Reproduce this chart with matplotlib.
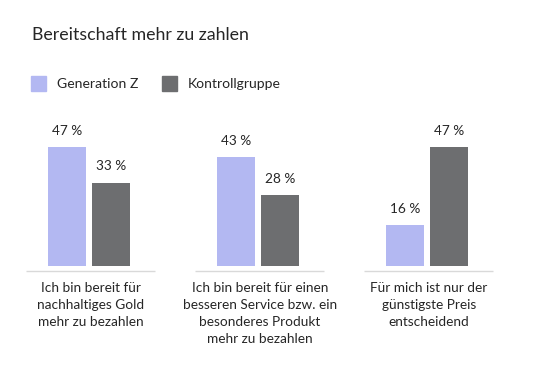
import matplotlib
matplotlib.use("Agg")
import numpy as np
from matplotlib import pyplot as plt

TITLE = "Bereitschaft mehr zu zahlen"
SERIES = ["Generation Z", "Kontrollgruppe"]
CATEGORIES = [
    "Ich bin bereit für\nnachhaltiges Gold\nmehr zu bezahlen",
    "Ich bin bereit für einen\nbesseren Service bzw. ein\nbesonderes Produkt\nmehr zu bezahlen",
    "Für mich ist nur der\ngünstigste Preis\nentscheidend",
]
GEN_Z = [47, 43, 16]
KONTROLL = [33, 28, 47]

COLORS = ["#b3b8f2", "#6d6e70"]
TEXT = "#262626"

plt.rcParams["font.family"] = ["Lato", "DejaVu Sans"]

W, H = 536, 387
fig = plt.figure(figsize=(W / 100, H / 100), dpi=100)
ax = fig.add_axes((0, 0, 1, 1))

px_x = 169.0   # pixels per category
x0 = 89.0      # pixel centre of first group
px_y = 2.52    # pixels per percent
base = 121.3   # pixel height of bar baseline from bottom

ax.set_xlim(-x0 / px_x, (W - x0) / px_x)
ax.set_ylim(-base / px_y, (H - base) / px_y)
ax.axis("off")

xs = np.arange(len(CATEGORIES))
off = 0.13
width = 0.225
for vals, sign, color in zip([GEN_Z, KONTROLL], [-1, 1], COLORS):
    bars = ax.bar(xs + sign * off, vals, width, color=color)
    for b, v in zip(bars, vals):
        ax.text(b.get_x() + b.get_width() / 2, v + 4.2, f"{v} %",
                ha="center", va="bottom", fontsize=9.8, color=TEXT)

# baseline per group
ax.hlines(np.full(len(xs), -2.2), xs - 0.37, xs + 0.39, color="#d9d9d9", lw=1)

for x, label in zip(xs, CATEGORIES):
    ax.text(x + 0.01, -6.3, label, ha="center", va="top", fontsize=9.8,
            color=TEXT, linespacing=1.5)

fig.text(32 / W, 1 - 35 / H, TITLE, ha="left", va="center", fontsize=12.8, color=TEXT)

# legend
for (lx, tx), name, color in zip([(31, 57), (162, 188)], SERIES, COLORS):
    fig.patches.append(plt.Rectangle((lx / W, 1 - 91 / H), 15 / W, 15 / H,
                                     transform=fig.transFigure, color=color))
    fig.text(tx / W, 1 - 84 / H, name, ha="left", va="center", fontsize=10.1, color=TEXT)

fig.savefig("out.png", dpi=100, facecolor="white")
